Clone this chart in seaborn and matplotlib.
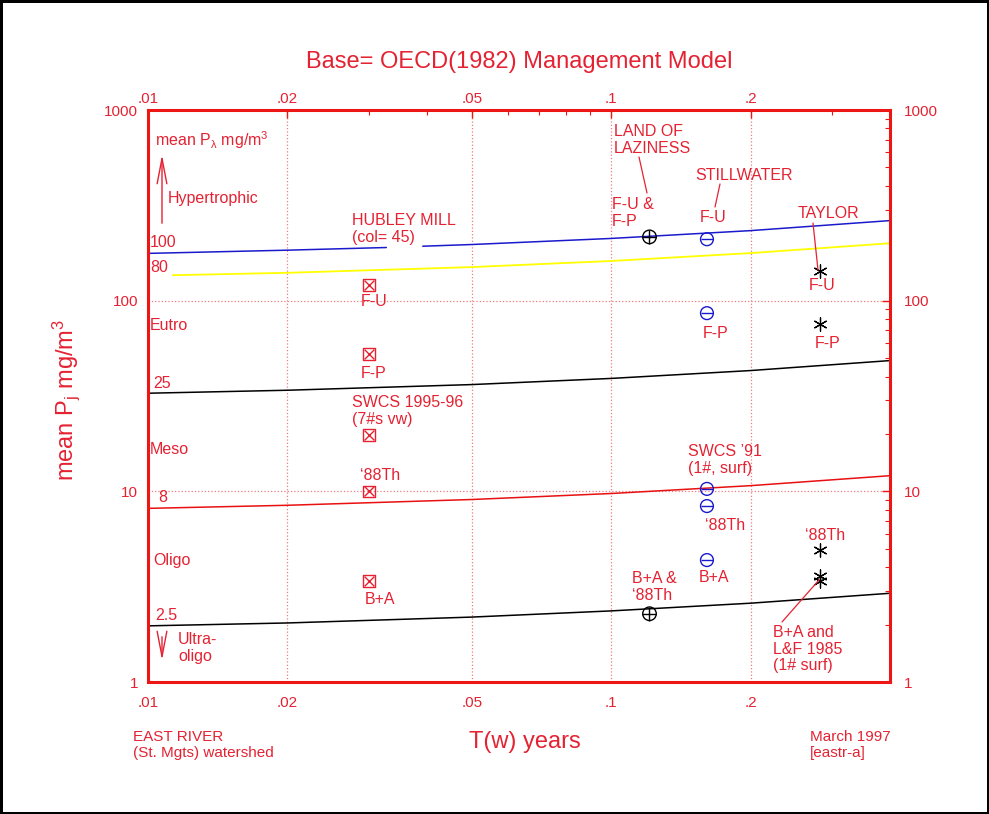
import numpy as np
import pandas as pd
import seaborn as sns
import matplotlib.pyplot as plt
from matplotlib.lines import Line2D
from matplotlib.ticker import FixedLocator, FixedFormatter, LogLocator, NullFormatter, NullLocator

sns.set_theme(style="white")
plt.rcParams['font.family'] = ['Liberation Sans', 'DejaVu Sans']
plt.rcParams['mathtext.fontset'] = 'custom'
plt.rcParams['mathtext.rm'] = 'Liberation Sans'
plt.rcParams['mathtext.it'] = 'Liberation Sans'

RED = '#e42232'
SPINE = '#ee1515'
GRID = '#f07a80'
BLUE = '#1a1acc'

# trophic boundary curves (OECD 1982)
tw_pts = [0.01, 0.02, 0.05, 0.1, 0.2, 0.4]
tw_hub_a = [0.01, 0.02, 0.0327]
p100_a = [177, 184, 190]
tw_hub_b = [0.0392, 0.05, 0.1, 0.2, 0.4]
p100_b = [193, 197, 212, 233, 263]
tw_yel = [0.0113, 0.02, 0.05, 0.1, 0.2, 0.4]
p80 = [136, 140, 150, 161.5, 177.6, 200]
p25 = [32.7, 33.9, 36.3, 39.1, 43.0, 48.5]
p8 = [8.14, 8.45, 9.06, 9.74, 10.71, 12.08]
p2_5 = [1.97, 2.04, 2.19, 2.36, 2.59, 2.92]

# lake observations
swcs_tw = [0.03, 0.03, 0.03, 0.03, 0.03]
swcs_p = [121, 52.5, 19.7, 10, 3.39]
lol_tw = [0.121, 0.121]
lol_p = [216, 2.28]
still_tw = [0.161, 0.161, 0.161, 0.161, 0.161]
still_p = [210, 86, 10.3, 8.37, 4.36]
taylor_tw = [0.283, 0.283, 0.283, 0.283, 0.283]
taylor_p = [143, 75.5, 4.92, 3.6, 3.39]

x_ticks = [0.01, 0.02, 0.05, 0.1, 0.2]
x_labels = ['.01', '.02', '.05', '.1', '.2']
y_ticks = [1, 10, 100, 1000]
y_labels = ['1', '10', '100', '1000']

W, H = 989, 814


def fx(x):
    return x / W


def fy(y):
    return 1 - y / H


fig = plt.figure(figsize=(9.89, 8.14), dpi=100, facecolor='white',
                 edgecolor='black', linewidth=2.5)
ax = fig.add_axes([fx(148), fy(682), fx(890) - fx(148), fy(110) - fy(682)])
ax.set_xscale('log')
ax.set_yscale('log')

# boundary curves
sns.lineplot(x=tw_hub_a, y=p100_a, color=BLUE, lw=1.1, ax=ax)
sns.lineplot(x=tw_hub_b, y=p100_b, color=BLUE, lw=1.1, ax=ax)
sns.lineplot(x=tw_yel, y=p80, color='#ffff00', lw=1.3, ax=ax)
sns.lineplot(x=tw_pts, y=p25, color='black', lw=1.1, ax=ax)
sns.lineplot(x=tw_pts, y=p8, color='#e81010', lw=1.1, ax=ax)
sns.lineplot(x=tw_pts, y=p2_5, color='black', lw=1.1, ax=ax)

# points
sns.scatterplot(x=swcs_tw, y=swcs_p, marker='s', s=70, facecolor='none',
                edgecolor=RED, linewidth=1, ax=ax, zorder=5)
sns.scatterplot(x=swcs_tw, y=swcs_p, marker='x', s=50, color=RED,
                linewidth=1, ax=ax, zorder=5)
sns.scatterplot(x=lol_tw, y=lol_p, marker='o', s=95, facecolor='none',
                edgecolor='black', linewidth=1, ax=ax, zorder=5)
sns.scatterplot(x=lol_tw, y=lol_p, marker='+', s=95, color='black',
                linewidth=1, ax=ax, zorder=5)
sns.scatterplot(x=still_tw, y=still_p, marker='o', s=85, facecolor='none',
                edgecolor=BLUE, linewidth=1, ax=ax, zorder=5)
sns.scatterplot(x=still_tw, y=still_p, marker='_', s=85, color=BLUE,
                linewidth=1, ax=ax, zorder=5)
sns.scatterplot(x=taylor_tw, y=taylor_p, marker=(6, 2, 0), s=90, color='black',
                linewidth=0.9, ax=ax, zorder=5)

ax.set_xlim(0.01, 0.4)
ax.set_ylim(1, 1000)

ax.xaxis.set_major_locator(FixedLocator(x_ticks))
ax.xaxis.set_major_formatter(FixedFormatter(x_labels))
ax.xaxis.set_minor_locator(LogLocator(base=10, subs=np.arange(2, 10)))
ax.xaxis.set_minor_formatter(NullFormatter())
ax.yaxis.set_major_locator(FixedLocator(y_ticks))
ax.yaxis.set_major_formatter(FixedFormatter(y_labels))
ax.yaxis.set_minor_locator(LogLocator(base=10, subs=np.arange(2, 10)))
ax.yaxis.set_minor_formatter(NullFormatter())

ax.tick_params(which='both', direction='in', colors=SPINE, labelcolor=RED,
               top=True, right=True, labelsize=11)
ax.tick_params(which='major', length=6, width=1)
ax.tick_params(which='minor', length=3.5, width=0.8)
ax.tick_params(axis='x', pad=10)
ax.tick_params(axis='y', pad=7)

# tick labels on top and right
top = ax.secondary_xaxis('top')
top.xaxis.set_major_locator(FixedLocator(x_ticks))
top.xaxis.set_major_formatter(FixedFormatter(x_labels))
top.xaxis.set_minor_locator(NullLocator())
top.tick_params(which='both', length=0, pad=3, labelcolor=RED, labelsize=11)
right = ax.secondary_yaxis('right')
right.yaxis.set_major_locator(FixedLocator(y_ticks))
right.yaxis.set_major_formatter(FixedFormatter(y_labels))
right.yaxis.set_minor_locator(NullLocator())
right.tick_params(which='both', length=0, pad=10, labelcolor=RED, labelsize=11)
for sec in (top, right):
    for s in sec.spines.values():
        s.set_visible(False)

ax.grid(True, which='major', color=GRID, linestyle=':', linewidth=0.9)
for s in ax.spines.values():
    s.set_color(SPINE)
    s.set_linewidth(2.2)

# titles and axis labels
fig.text(fx(519), fy(62), 'Base= OECD(1982) Management Model', color=RED,
         fontsize=17, ha='center', va='center')
fig.text(fx(66), fy(400), r'mean P$_\mathrm{j}$ mg/m$^3$', color=RED,
         fontsize=17, rotation=90, ha='center', va='center')
fig.text(fx(525), fy(742), 'T(w) years', color=RED, fontsize=17,
         ha='center', va='center')
fig.text(fx(133), fy(745), 'EAST RIVER\n(St. Mgts) watershed', color=RED,
         fontsize=11, ha='left', va='center', linespacing=1.1)
fig.text(fx(810), fy(745), 'March 1997\n[eastr-a]', color=RED,
         fontsize=11, ha='left', va='center', linespacing=1.1)

# trophic state labels inside the axes
labels_left = [
    (155, 140, r'mean P$_\lambda$ mg/m$^3$'),
    (168, 198, 'Hypertrophic'),
    (150, 242, '100'),
    (150, 268, '80'),
    (150, 326, 'Eutro'),
    (153, 383, '25'),
    (150, 449, 'Meso'),
    (158, 498, '8'),
    (153, 560, 'Oligo'),
    (155, 615, '2.5'),
    (178, 648, 'Ultra-\noligo'),
]
for x, y, t in labels_left:
    fig.text(fx(x), fy(y), t, color=RED, fontsize=11.5, ha='left',
             va='center', linespacing=1.15)

arrow_style = '->,head_length=1.3,head_width=0.25'
ax.annotate('', xy=(fx(162), fy(152)), xytext=(fx(162), fy(226)),
            xycoords='figure fraction', textcoords='figure fraction',
            arrowprops=dict(arrowstyle=arrow_style, color=RED, lw=1,
                            mutation_scale=14))
ax.annotate('', xy=(fx(162), fy(663)), xytext=(fx(162), fy(634)),
            xycoords='figure fraction', textcoords='figure fraction',
            arrowprops=dict(arrowstyle=arrow_style, color=RED, lw=1,
                            mutation_scale=14))

# point annotations
notes = [
    (352, 229, 'HUBLEY MILL\n(col= 45)'),
    (614, 140, 'LAND OF\nLAZINESS'),
    (612, 213, 'F-U &\nF-P'),
    (695, 175, 'STILLWATER'),
    (700, 218, 'F-U'),
    (798, 213, 'TAYLOR'),
    (809, 285, 'F-U'),
    (703, 333, 'F-P'),
    (815, 343, 'F-P'),
    (361, 301, 'F-U'),
    (361, 373, 'F-P'),
    (352, 411, 'SWCS 1995-96\n(7#s vw)'),
    (360, 475, '\u201888Th'),
    (365, 599, 'B+A'),
    (688, 460, "SWCS \u201991\n(1#, surf)"),
    (705, 525, '\u201888Th'),
    (699, 577, 'B+A'),
    (632, 587, 'B+A &\n\u201888Th'),
    (805, 535, '\u201888Th'),
    (773, 649, 'B+A and\nL&F 1985\n(1# surf)'),
]
for x, y, t in notes:
    fig.text(fx(x), fy(y), t, color=RED, fontsize=11.5, ha='left',
             va='center', linespacing=1.15)

leaders = [
    ((639, 157), (647, 193)),
    ((720, 184), (715, 207)),
    ((813, 223), (818, 270)),
    ((782, 622), (819, 580)),
]
for (x0, y0), (x1, y1) in leaders:
    fig.add_artist(Line2D([fx(x0), fx(x1)], [fy(y0), fy(y1)], color=RED,
                          lw=0.9, transform=fig.transFigure))

fig.savefig('out.png', dpi=100, edgecolor='black')
